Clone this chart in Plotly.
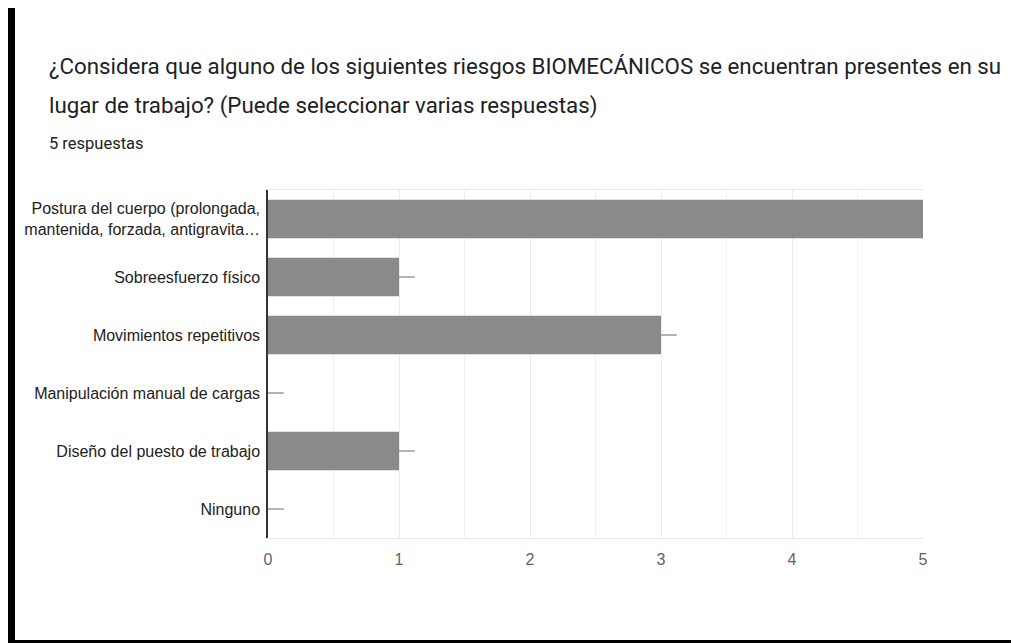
import plotly.graph_objects as go

categories = [
    "Postura del cuerpo (prolongada,<br>mantenida, forzada, antigravita…",
    "Sobreesfuerzo físico",
    "Movimientos repetitivos",
    "Manipulación manual de cargas",
    "Diseño del puesto de trabajo",
    "Ninguno",
]
values = [5, 1, 3, 0, 1, 0]
x_ticks = [0, 1, 2, 3, 4, 5]

title_1 = "¿Considera que alguno de los siguientes riesgos BIOMECÁNICOS se encuentran presentes en su"
title_2 = "lugar de trabajo? (Puede seleccionar varias respuestas)"
subtitle = "5 respuestas"

x_max = max(x_ticks)
# little leader stubs Google charts draws after each bar (none when bar hits the edge)
stub = [0.0 if v >= x_max else 0.12 for v in values]

fig = go.Figure(
    go.Bar(
        x=values,
        y=categories,
        orientation="h",
        marker=dict(color="#8a8a8a", line=dict(width=0)),
        width=0.66,
        error_x=dict(type="data", symmetric=False, array=stub, arrayminus=[0] * len(values),
                     color="#9a9a9a", thickness=1.5, width=0),
        hoverinfo="skip",
    )
)

# page body has an 8px margin, so work in screen pixels and shift
OFF = 8
W, H = 1019 - OFF, 643 - OFF
# plot area on screen: x 268..923, y 190..538 px
L, R, T, B = 268 - OFF, 923 - OFF, 190 - OFF, 538 - OFF


def px(xs):
    return (xs - OFF - L) / (R - L)


def py(ys):
    return (B - (ys - OFF)) / (B - T)


ann = [
    dict(text=title_1, x=px(47), y=py(66), font=dict(size=22.3, color="#202124")),
    dict(text=title_2, x=px(47), y=py(105), font=dict(size=22.3, color="#202124")),
    dict(text=subtitle, x=px(47), y=py(143), font=dict(size=16.5, color="#202124")),
]
for a in ann:
    a.update(xref="paper", yref="paper", xanchor="left", yanchor="middle", showarrow=False,
             font_family="Roboto, Arial, sans-serif")

fig.update_layout(
    width=W, height=H,
    margin=dict(l=L, r=W - R, t=T, b=H - B),
    paper_bgcolor="white", plot_bgcolor="white",
    showlegend=False,
    annotations=ann,
    font=dict(family="Liberation Sans, Arial, sans-serif", size=16, color="#222222"),
    shapes=[
        dict(type="rect", xref="paper", yref="paper", x0=px(OFF), x1=px(15), y0=py(643), y1=py(7),
             fillcolor="black", line_width=0, layer="above"),
        dict(type="rect", xref="paper", yref="paper", x0=px(OFF), x1=px(1019), y0=py(643), y1=py(640),
             fillcolor="black", line_width=0, layer="above"),
    ],
)
fig.update_xaxes(
    range=[0, x_max], tickvals=x_ticks, showgrid=True, gridcolor="#ebebeb", gridwidth=1,
    minor=dict(dtick=0.5, showgrid=True, gridcolor="#f0f0f0"),
    showline=True, linecolor="#e6e6e6", mirror=True, zeroline=False,
    tickfont=dict(size=16, color="#5f6368"), ticks="", ticklabelstandoff=7,
    fixedrange=True,
)
fig.update_yaxes(
    categoryorder="array", categoryarray=categories[::-1],
    showline=True, linecolor="#333333", linewidth=1.5, showgrid=False,
    ticks="", ticklabelstandoff=3, tickfont=dict(size=16, color="#222222"),
    fixedrange=True,
)

fig.write_html("out.html", config=dict(displayModeBar=False))
